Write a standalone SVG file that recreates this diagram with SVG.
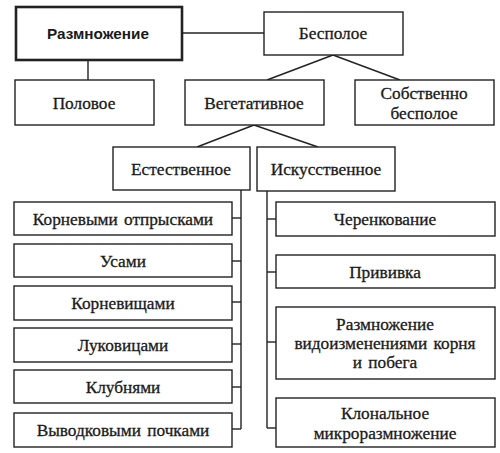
<svg xmlns="http://www.w3.org/2000/svg" width="500" height="453" viewBox="0 0 500 453">
<style>
rect{fill:#fff;stroke:#222;stroke-width:1.4}
.thick{stroke-width:2.6}
text{font-family:"Liberation Serif","Times New Roman",serif;font-size:17.3px;word-spacing:2px;fill:#1a1a1a;stroke:#1a1a1a;stroke-width:0.3;text-anchor:middle;dominant-baseline:central}
.b{font-family:"Liberation Sans",Arial,sans-serif;font-weight:bold;font-size:15.3px;stroke:none}
#connectors line{stroke:#222;stroke-width:1.4;fill:none}
</style>
<rect x="0" y="0" width="500" height="453" style="fill:#fff;stroke:none"/>
<g id="connectors">
<line x1="182" y1="33" x2="264" y2="33"/>
<line x1="88" y1="60" x2="88" y2="80"/>
<line x1="333" y1="55" x2="267" y2="80"/>
<line x1="333" y1="55" x2="400" y2="80"/>
<line x1="254" y1="125" x2="197" y2="147"/>
<line x1="254" y1="125" x2="318" y2="147"/>
<line x1="241" y1="190" x2="241" y2="429"/>
<line x1="232" y1="218" x2="241" y2="218"/>
<line x1="232" y1="261" x2="241" y2="261"/>
<line x1="232" y1="302" x2="241" y2="302"/>
<line x1="232" y1="344" x2="241" y2="344"/>
<line x1="232" y1="387" x2="241" y2="387"/>
<line x1="232" y1="429" x2="241" y2="429"/>
<line x1="267" y1="191" x2="267" y2="428"/>
<line x1="267" y1="219" x2="276" y2="219"/>
<line x1="267" y1="272" x2="276" y2="272"/>
<line x1="267" y1="342" x2="276" y2="342"/>
<line x1="267" y1="428" x2="276" y2="428"/>
</g>
<g id="n-razmnozhenie"><rect class="thick" x="16" y="7" width="166" height="53"/><text class="b" x="98" y="33">Размножение</text></g>
<g id="n-bespoloe"><rect x="264" y="12" width="139" height="43"/><text x="333" y="33">Бесполое</text></g>
<g id="n-polovoe"><rect x="15" y="80" width="139" height="45"/><text x="84" y="103">Половое</text></g>
<g id="n-vegetativnoe"><rect x="185" y="80" width="139" height="45"/><text x="254" y="103">Вегетативное</text></g>
<g id="n-sobstvenno"><rect x="355" y="80" width="139" height="45"/><text x="424" y="93">Собственно</text><text x="424" y="113">бесполое</text></g>
<g id="n-estestvennoe"><rect x="113" y="147" width="137" height="43"/><text x="181" y="169">Естественное</text></g>
<g id="n-iskusstvennoe"><rect x="257" y="147" width="138" height="44"/><text x="326" y="169">Искусственное</text></g>
<g id="n-kornevymi"><rect x="14" y="202" width="218" height="33"/><text x="123" y="219">Корневыми отпрысками</text></g>
<g id="n-usami"><rect x="14" y="244" width="218" height="33"/><text x="123" y="261">Усами</text></g>
<g id="n-kornevishchami"><rect x="14" y="286" width="218" height="34"/><text x="123" y="303">Корневищами</text></g>
<g id="n-lukovitsami"><rect x="14" y="328" width="218" height="34"/><text x="123" y="345">Луковицами</text></g>
<g id="n-klubnyami"><rect x="14" y="370" width="218" height="33"/><text x="123" y="387">Клубнями</text></g>
<g id="n-vyvodkovymi"><rect x="14" y="413" width="218" height="34"/><text x="123" y="430">Выводковыми почками</text></g>
<g id="n-cherenkovanie"><rect x="276" y="202" width="219" height="34"/><text x="385" y="219">Черенкование</text></g>
<g id="n-privivka"><rect x="276" y="255" width="219" height="33"/><text x="385" y="272">Прививка</text></g>
<g id="n-vidoizm"><rect x="276" y="307" width="219" height="72"/><text x="385" y="324">Размножение</text><text x="385" y="343">видоизменениями корня</text><text x="385" y="362">и побега</text></g>
<g id="n-klonalnoe"><rect x="276" y="398" width="219" height="49"/><text x="385" y="413">Клональное</text><text x="385" y="433">микроразмножение</text></g>
</svg>
